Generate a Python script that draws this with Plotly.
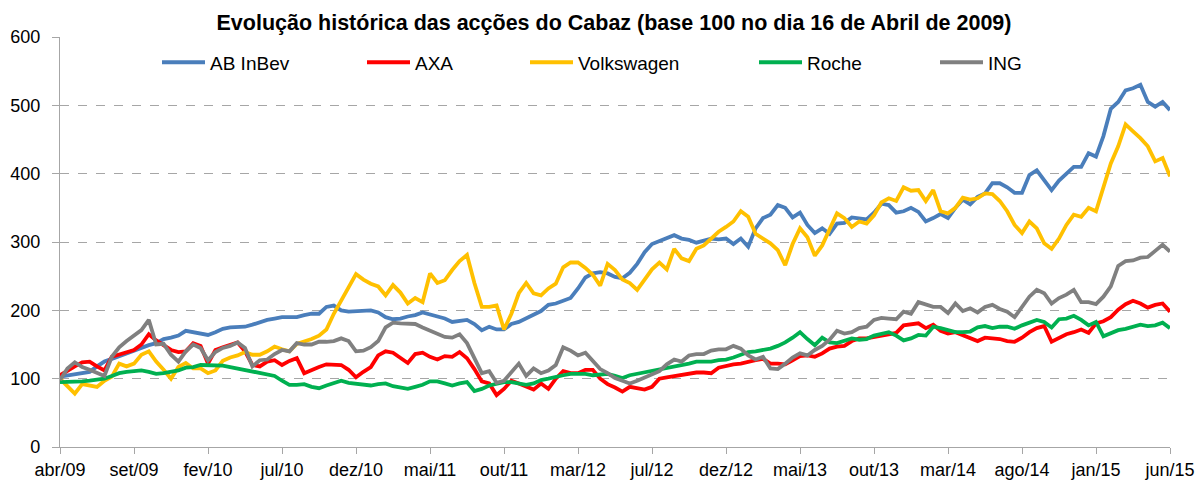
import plotly.graph_objects as go

# Tick labels (equally spaced along the trading-day axis)
tick_labels = ["abr/09", "set/09", "fev/10", "jul/10", "dez/10", "mai/11", "out/11", "mar/12",
               "jul/12", "dez/12", "mai/13", "out/13", "mar/14", "ago/14", "jan/15", "jun/15"]

# Values sampled at 10 points per tick interval (base 100 on 16 April 2009)
ab_inbev = [103, 105, 107, 108, 110, 118, 125, 129, 133, 137,
            142, 145, 149, 152, 158, 160, 163, 170, 168, 166,
            164, 168, 173, 175, 176, 176, 179, 183, 186, 188,
            190, 190, 190, 193, 195, 195, 205, 207, 200, 198,
            199, 200, 200, 197, 190, 187, 188, 191, 193, 197,
            194, 190, 188, 183, 184, 186, 180, 171, 176, 172,
            172, 180, 183, 188, 193, 199, 208, 210, 214, 218,
            232, 248, 254, 256, 254, 249, 247, 255, 268, 285,
            297, 301, 305, 310, 305, 303, 299, 302, 305, 304,
            305, 297, 305, 293, 320, 335, 340, 354, 350, 336,
            343, 325, 313, 320, 312, 327, 328, 336, 334, 333,
            343, 356, 354, 343, 345, 350, 344, 330, 335, 341,
            335, 350, 362, 355, 366, 371, 386, 386, 380, 372,
            372, 398, 405, 390, 376, 390, 400, 410, 410, 430,
            425, 455, 495, 505, 522, 525, 530, 505, 498, 505,
            493]

axa = [105, 112, 118, 124, 125, 118, 112, 132, 135, 139,
       142, 150, 165, 156, 149, 142, 139, 140, 152, 148,
       122, 142, 146, 150, 153, 140, 120, 118, 125, 127,
       120, 126, 130, 108, 113, 117, 121, 121, 120, 113,
       102, 110, 117, 134, 140, 138, 130, 123, 136, 138,
       132, 128, 133, 132, 139, 130, 114, 96, 93, 76,
       85, 97, 93, 89, 84, 93, 85, 100, 111, 108,
       108, 113, 113, 100, 92, 87, 81, 88, 86, 84,
       88, 100, 102, 104, 105, 107, 109, 109, 108, 116,
       119, 121, 122, 125, 127, 129, 122, 122, 121, 127,
       133, 134, 132, 137, 144, 147, 148, 155, 159, 159,
       161, 163, 164, 167, 178, 180, 181, 174, 179, 170,
       166, 168, 164, 160, 155, 160, 159, 158, 155, 154,
       160, 168, 174, 177, 154, 160, 165, 168, 172, 167,
       181, 184, 190, 201, 209, 214, 210, 204, 208, 210,
       198]

volkswagen = [100, 88, 78, 92, 90, 88, 97, 103, 122, 118,
              122, 135, 140, 125, 113, 100, 117, 123, 115, 115,
              108, 112, 126, 131, 134, 139, 135, 135, 140, 147,
              143, 140, 151, 154, 158, 163, 172, 195, 215, 234,
              253, 245, 239, 235, 222, 237, 226, 210, 218, 212,
              254, 240, 244, 259, 272, 281, 240, 205, 205, 207,
              172, 195, 225, 240, 225, 222, 232, 239, 263, 270,
              270, 262, 252, 236, 268, 259, 245, 240, 230, 245,
              260, 270, 260, 290, 276, 272, 290, 295, 305, 315,
              322, 330, 345, 337, 312, 305, 298, 288, 266, 297,
              320, 307, 280, 295, 320, 342, 335, 322, 330, 327,
              339, 358, 364, 360, 380, 375, 376, 360, 376, 345,
              342, 350, 365, 362, 364, 371, 370, 360, 345, 325,
              313, 330, 320, 298, 290, 305, 325, 340, 337, 350,
              345, 380, 415, 440, 472, 462, 452, 440, 418, 423,
              396]

roche = [95, 95, 95, 96, 97, 98, 100, 104, 108, 110,
         111, 112, 110, 107, 108, 110, 112, 116, 117, 120,
         120, 120, 119, 117, 115, 112, 110, 108, 106, 104,
         97, 91, 91, 92, 88, 86, 90, 94, 97, 94,
         93, 91, 90, 92, 93, 89, 87, 85, 88, 91,
         96, 96, 93, 90, 93, 95, 82, 85, 90, 93,
         95, 95, 93, 91, 93, 98, 100, 103, 105, 107,
         107, 107, 105, 106, 107, 104, 101, 105, 107, 110,
         111, 113, 116, 118, 120, 122, 125, 125, 125, 127,
         128, 131, 135, 139, 140, 142, 144, 148, 153, 160,
         168, 158, 149, 160, 153, 152, 156, 159, 157, 158,
         163, 166, 168, 163, 156, 159, 164, 163, 176, 174,
         171, 168, 168, 169, 175, 177, 174, 176, 176, 173,
         178, 182, 186, 183, 175, 187, 188, 192, 186, 178,
         183, 162, 167, 171, 173, 176, 179, 177, 178, 182,
         174]

ing = [98, 115, 124, 117, 113, 108, 104, 132, 146, 155,
       163, 171, 186, 150, 151, 135, 125, 140, 150, 145,
       127, 139, 145, 148, 153, 145, 118, 127, 128, 136,
       142, 140, 152, 150, 150, 154, 154, 155, 159, 155,
       140, 141, 146, 155, 175, 182, 181, 181, 180, 175,
       170, 165, 161, 160, 165, 152, 130, 108, 111, 94,
       97, 110, 122, 104, 115, 108, 112, 120, 146, 141,
       134, 138, 125, 114, 108, 101, 97, 93, 97, 102,
       107, 111, 121, 128, 125, 134, 136, 136, 141, 143,
       143, 148, 144, 134, 128, 132, 115, 114, 122, 131,
       137, 134, 142, 148, 157, 170, 166, 168, 174, 176,
       186, 189, 188, 187, 198, 195, 212, 208, 205, 205,
       196, 210, 199, 203, 197, 205, 208, 202, 198, 190,
       205, 220, 230, 225, 210, 218, 223, 230, 212, 212,
       209, 220, 235, 265, 272, 273, 277, 278, 287, 296,
       286]

series_names = ["AB InBev", "AXA", "Volkswagen", "Roche", "ING"]
series_values = [ab_inbev, axa, volkswagen, roche, ing]
series_colors = ["#4A7EBB", "#FF0000", "#FFC000", "#00B050", "#808080"]

n_points = len(ab_inbev)
x_idx = list(range(n_points))
step = (n_points - 1) // (len(tick_labels) - 1)
tick_positions = [i * step for i in range(len(tick_labels))]

FONT = "Liberation Sans, Arial, sans-serif"

# legend item origins in pixels (plot area spans 60..1170)
legend_px = [157, 362, 525, 754, 935]
plot_left, plot_right = 60, 1170

fig = go.Figure()
legend_keys = ["legend", "legend2", "legend3", "legend4", "legend5"]
for name, vals, col, lk in zip(series_names, series_values, series_colors, legend_keys):
    fig.add_trace(go.Scatter(x=x_idx, y=vals, mode="lines", name=name,
                             line=dict(color=col, width=3.8), legend=lk,
                             hoverinfo="skip"))

legend_common = dict(orientation="h", yanchor="middle", y=0.938, xanchor="left",
                     bgcolor="rgba(0,0,0,0)", borderwidth=0,
                     font=dict(family=FONT, size=19, color="#000000"),
                     itemwidth=43)
layout_legends = {}
for lk, px in zip(legend_keys, legend_px):
    d = dict(legend_common)
    d["x"] = (px - plot_left) / (plot_right - plot_left)
    layout_legends[lk] = d

fig.update_layout(
    width=1199, height=480,
    margin=dict(l=60, r=29, t=37, b=33),
    paper_bgcolor="white", plot_bgcolor="white",
    showlegend=True,
    title=dict(text="<b>Evolução histórica das acções do Cabaz (base 100 no dia 16 de Abril de 2009)</b>",
               x=614 / 1199, xanchor="center", y=1 - 22 / 480, yanchor="middle",
               font=dict(family=FONT, size=21.5, color="#000000")),
    font=dict(family=FONT, size=18, color="#000000"),
    **layout_legends,
)

fig.update_xaxes(range=[0, n_points - 1], tickmode="array", tickvals=tick_positions,
                 ticktext=tick_labels, showgrid=False, zeroline=False, automargin=False,
                 showline=True, linecolor="#A6A6A6", linewidth=1.3,
                 ticks="outside", ticklen=6, tickcolor="#A6A6A6",
                 tickfont=dict(family=FONT, size=18, color="#000000"))
fig.update_yaxes(range=[0, 600], dtick=100, showgrid=True, gridcolor="#A6A6A6",
                 griddash="dash", gridwidth=1, zeroline=False, automargin=False,
                 showline=True, linecolor="#A6A6A6", linewidth=1.3,
                 ticks="outside", ticklen=7, tickcolor="#A6A6A6", ticklabelstandoff=8,
                 tickfont=dict(family=FONT, size=18, color="#000000"))

fig.write_html("out.html", config={"displayModeBar": False},
               post_script="document.body.style.margin='0';document.body.style.overflow='hidden';")
